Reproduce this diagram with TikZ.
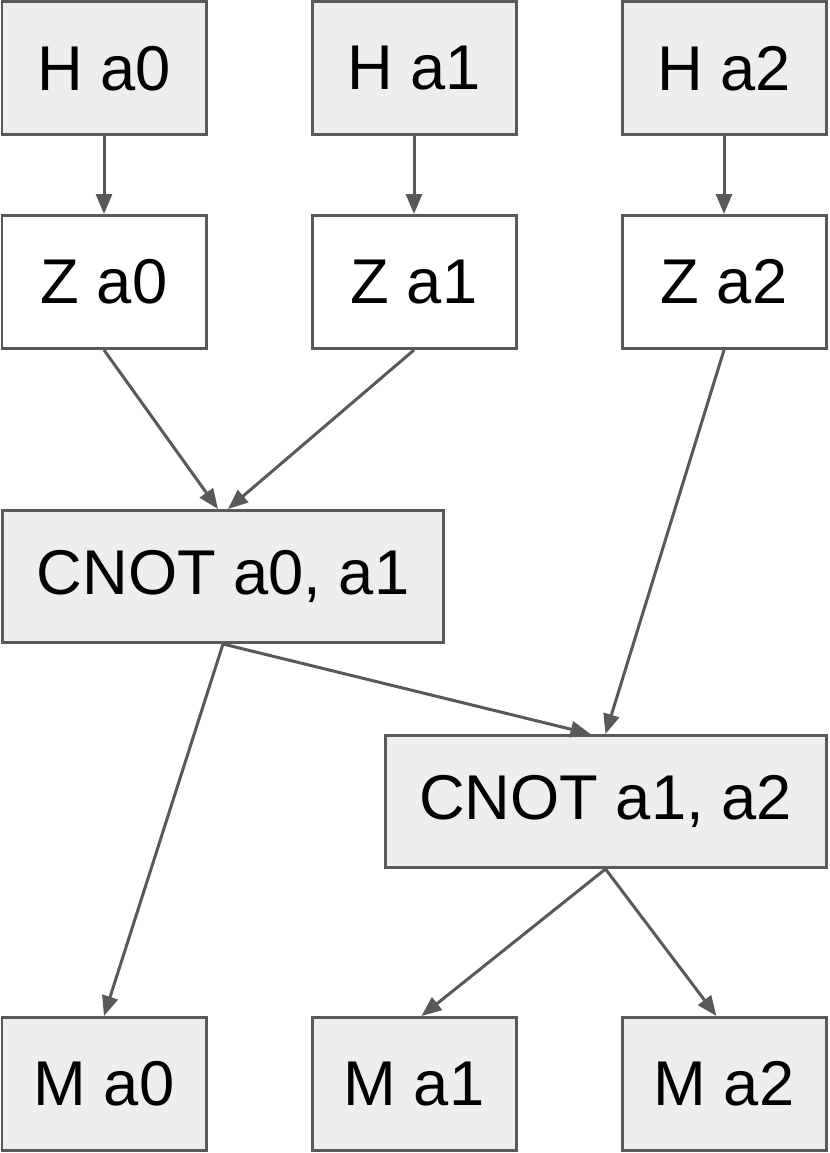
\documentclass[tikz,border=0pt]{standalone}
\usepackage{fontspec}
\setmainfont{Liberation Sans}
\usepackage{tikz}
\usetikzlibrary{positioning, arrows.meta}
\definecolor{gateline}{HTML}{595959}
\definecolor{gatefill}{HTML}{EEEEEE}

\begin{document}
\begin{tikzpicture}[
    gate/.style={
        rectangle,
        draw=gateline,
        line width=0.06cm,
        fill=gatefill,
        inner sep=0pt,
        minimum width=4.08cm,
        minimum height=2.66cm,
        font=\fontsize{36}{43}\selectfont,
    },
    zgate/.style={gate, fill=white},
    wide/.style={gate, minimum width=8.82cm, minimum height=2.64cm},
    flow/.style={-{Triangle[length=0.4cm, width=0.32cm]}, line width=0.06cm, color=gateline}
]
\useasboundingbox (0,0) rectangle (16.6,-23.06);

\node[gate] (Ha0) at (2.08,-1.365) {H a0};
\node[gate] (Ha1) at (8.28,-1.365) {H a1};
\node[gate] (Ha2) at (14.48,-1.365) {H a2};

\node[zgate] (Za0) at (2.08,-5.64) {Z a0};
\node[zgate] (Za1) at (8.28,-5.64) {Z a1};
\node[zgate] (Za2) at (14.48,-5.64) {Z a2};

\node[wide] (C01) at (4.46,-11.53) {CNOT a0, a1};
\node[wide] (C12) at (12.11,-16.03) {CNOT a1, a2};

\node[gate] (Ma0) at (2.08,-21.68) {M a0};
\node[gate] (Ma1) at (8.28,-21.68) {M a1};
\node[gate] (Ma2) at (14.48,-21.68) {M a2};

\draw[flow] (Ha0) -- (Za0);
\draw[flow] (Ha1) -- (Za1);
\draw[flow] (Ha2) -- (Za2);
\draw[flow] (Za0.south) -- ([xshift=-0.1cm]C01.north);
\draw[flow] (Za1.south) -- ([xshift=0.1cm]C01.north);
\draw[flow] (Za2.south) -- (C12.north);
\draw[flow] (C01.south) -- ([xshift=-0.3cm]C12.north);
\draw[flow] (C01.south) -- (Ma0.north);
\draw[flow] (C12.south) -- ([xshift=0.15cm]Ma1.north);
\draw[flow] (C12.south) -- ([xshift=-0.15cm]Ma2.north);
\end{tikzpicture}
\end{document}
